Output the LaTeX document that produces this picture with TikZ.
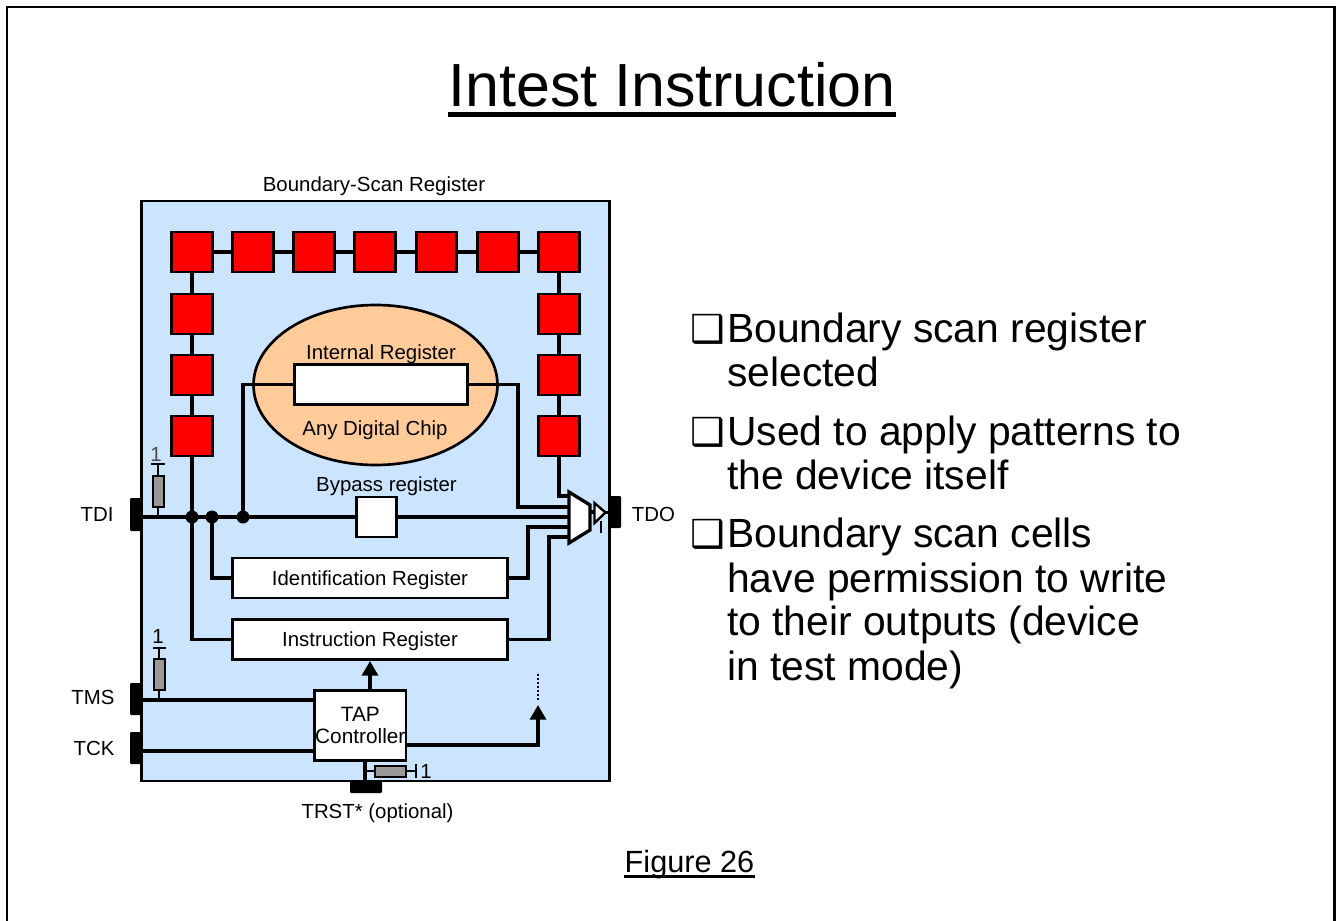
\documentclass[tikz,border=0pt]{standalone}
\usepackage{fontspec}
\setmainfont{Liberation Sans}
\newfontfamily\symf{DejaVu Sans}
\usetikzlibrary{arrows.meta,shapes.geometric}
\definecolor{chipblue}{HTML}{CCE5FF}
\definecolor{chiporange}{HTML}{FFCC99}
\definecolor{resgray}{HTML}{999999}
\tikzset{
  x=0.75pt,y=-0.75pt,
  wire/.style={line width=2.5pt,line join=miter},
  thinwire/.style={line width=2pt},
  regbox/.style={draw=black,line width=2.2pt,fill=white,minimum width=#1,inner sep=0pt,font=\fontsize{15.3}{17}\selectfont,text height=10.6pt,text depth=0pt},
  cell/.style={draw=black,line width=2.2pt,fill=red,minimum width=30.5pt,minimum height=30pt,inner sep=0pt},
  pin/.style={fill=black,rounded corners=0.8pt},
  res/.style={draw=black,line width=2pt,fill=resgray},
  dot/.style={circle,fill=black,minimum size=9.75pt,inner sep=0pt},
  lbl/.style={font=\fontsize{15.3}{17}\selectfont,inner sep=0pt,text=black,text height=10.6pt,text depth=0pt},
  bul/.style={font=\fontsize{30.6}{33}\selectfont,inner sep=0pt,anchor=base west,align=left},
  arr/.style={-{Triangle[length=11pt,width=12pt]}},
}
\newcommand{\bulbox}{\makebox[27.75pt][l]{\symf\fontsize{29}{33}\selectfont ❑}}
\begin{document}
\begin{tikzpicture}
\useasboundingbox (0,0) rectangle (1336,921);
\fill[white] (0,0) rectangle (1336,921);
\draw[line width=1.8pt] (7,921)--(7,7)--(1334.5,7)--(1334.5,921);
\node[inner sep=0pt,font=\fontsize{45.7}{50}\selectfont,text height=33pt,text depth=0pt] (title) at (672,84) {Intest Instruction};
\draw[line width=3.75pt] (title.west|-0,114)--(title.east|-0,114);
\node[lbl] (bsrlbl) at (374,184) {Boundary-Scan Register};
\node[draw=black,line width=1.8pt,fill=chipblue,minimum width=351pt,minimum height=435pt,inner sep=0pt] (chip) at (375.5,491) {};

\coordinate (c1) at (192,517);
\coordinate (c2) at (212,517);
\coordinate (c3) at (243,517);

% cells
\foreach \n/\x/\y in {a/192/252,b/253/252,c/314/252,d/375/252,e/436.5/252,f/498/252,g/559/252,
 h/192/314,i/192/375,j/192/436,k/559/314,l/559/375,m/559/436}
  \node[cell] (\n) at (\x,\y) {};
\draw[wire] (a)--(b) (b)--(c) (c)--(d) (d)--(e) (e)--(f) (f)--(g)
  (a)--(h) (h)--(i) (i)--(j) (g)--(k) (k)--(l) (l)--(m);

% ellipse and internal register
\node[draw=black,line width=2pt,fill=chiporange,ellipse,minimum width=183pt,minimum height=120pt,inner sep=0pt] (chipel) at (375.5,385) {};
\node[regbox=130pt,minimum height=30pt] (ir) at (381,384.7) {};
\node[lbl] at (381,352) {Internal Register};
\node[lbl] at (375,428) {Any Digital Chip};

% registers
\node[regbox=30pt,minimum height=30pt] (byp) at (376.5,517) {};
\node[lbl] at (386.5,484) {Bypass register};
\node[regbox=206pt,minimum height=30pt] (idr) at (370,578) {Identification Register};
\node[regbox=206pt,minimum height=30pt] (ins) at (370,639.5) {Instruction Register};
\node[regbox=68.5pt,minimum height=52.7pt,align=center,font=\fontsize{15.6}{16.5}\selectfont,text height=,text depth=] (tap) at (360.3,725.8) {TAP\\Controller};

% mux and buffer
\coordinate (mtop) at (569,492);
\coordinate (mrt) at (590,505);
\coordinate (mrb) at (590,530);
\coordinate (mbot) at (569,543);
\draw[wire,fill=white] (mtop)--(mrt)--(mrb)--(mbot)--cycle;
\coordinate (bt) at (594.5,503);
\coordinate (bb) at (594.5,523);
\coordinate (bo) at (605.5,512.5);
\draw[line width=1.8pt,fill=white] (bt)--(bo)--(bb)--cycle;
\coordinate (en) at (601,533);
\coordinate (ent) at (601,521);
\draw[line width=1.4pt] (en)--(ent);
\coordinate (muxout) at (590,512);
\draw[wire] (muxout)--(594.5,512);

% pins
\fill[pin] (130,498) rectangle (142,531);
\fill[pin] (130,683) rectangle (142,715);
\fill[pin] (130,732) rectangle (142,764);
\fill[pin] (609,496) rectangle (621,528);
\fill[pin] (350,781) rectangle (382,793);

% connection wiring
\draw[wire] (m.south)|-(569,496);
\draw[wire] (ir.east)-|(518,507)--(569,507);
\draw[wire] (byp.east)--(569,517);
\draw[wire] (idr.east)-|(528,527)--(569,527);
\draw[wire] (ins.east)-|(549,537)--(569,537);
\draw[wire] (141,517)--(byp.west);
\draw[wire] (j.south)|-(ins.west);
\draw[wire] (c2)|-(idr.west);
\draw[wire] (c3)|-(ir.west);
\node[dot] at (c1) {};
\node[dot] at (c2) {};
\node[dot] at (c3) {};
\draw[line width=1.8pt] (605.5,512.5)--(610,512.5);

% TMS / TCK / TAP
\draw[wire] (141,700)--(tap.west|-0,700);
\draw[wire] (141,751)--(tap.west|-0,751);
\draw[wire,arr] (370,690)--(ins.south-|370,0);
\draw[wire,arr] (tap.east|-0,745)-|(538,705);
\draw[line width=1.4pt,dash pattern=on 1.4pt off 1.6pt] (538,700)--(538,672);
\draw[wire] (365,762)--(365,782);

% resistors
\draw[thinwire] (158,517)--(158,464) (151,464)--(165,464);
\draw[res] (153,476) rectangle (164,507);
\node[lbl,text=black!70] at (156,454) {1};
\draw[thinwire] (159,700)--(159,648) (153,648)--(166,648);
\draw[res] (154,659) rectangle (165,690);
\node[lbl] at (158,636) {1};
\draw[thinwire] (364,771)--(416,771) (416,764)--(416,778);
\draw[res] (375,766) rectangle (406,777);
\node[lbl] at (426,771) {1};

% pin labels
\node[lbl] at (97,514) {TDI};
\node[lbl] at (653.5,514) {TDO};
\node[lbl] at (93,697) {TMS};
\node[lbl] at (94,748) {TCK};
\node[lbl] at (377.5,811) {TRST* (optional)};

% bullets
\node[bul] at (690,342) {\bulbox Boundary scan register};
\node[bul] at (727,386) {selected};
\node[bul] at (690,445) {\bulbox Used to apply patterns to};
\node[bul] at (727,489) {the device itself};
\node[bul] at (690,547) {\bulbox Boundary scan cells};
\node[bul] at (727,592) {have permission to write};
\node[bul] at (727,635) {to their outputs (device};
\node[bul] at (727,680) {in test mode)};

\node[inner sep=0pt,font=\fontsize{23}{26}\selectfont,text height=16.5pt,text depth=0pt] (fig) at (689.5,861) {Figure 26};
\draw[line width=2.6pt] (fig.west|-0,876.5)--(fig.east|-0,876.5);
\end{tikzpicture}
\end{document}
